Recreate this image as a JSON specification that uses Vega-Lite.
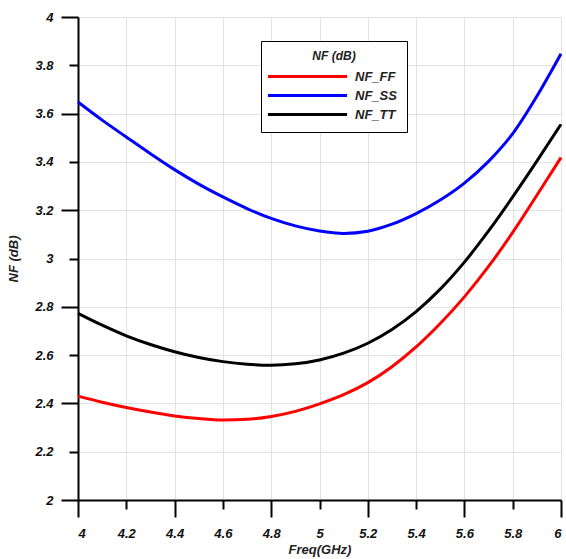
{
  "$schema": "https://vega.github.io/schema/vega-lite/v6.json",
  "width": 483,
  "height": 483,
  "autosize": "none",
  "padding": {"left": 78, "top": 17, "right": 5, "bottom": 59},
  "background": "white",
  "config": {
    "view": {"stroke": null},
    "font": "Liberation Sans"
  },
  "data": {
    "values": [
      {"f": 4.0, "s": "NF_FF", "v": 2.430}, {"f": 4.1, "s": "NF_FF", "v": 2.405}, {"f": 4.2, "s": "NF_FF", "v": 2.383},
      {"f": 4.3, "s": "NF_FF", "v": 2.364}, {"f": 4.4, "s": "NF_FF", "v": 2.348}, {"f": 4.5, "s": "NF_FF", "v": 2.337},
      {"f": 4.6, "s": "NF_FF", "v": 2.331}, {"f": 4.7, "s": "NF_FF", "v": 2.334}, {"f": 4.8, "s": "NF_FF", "v": 2.346},
      {"f": 4.9, "s": "NF_FF", "v": 2.367}, {"f": 5.0, "s": "NF_FF", "v": 2.398}, {"f": 5.1, "s": "NF_FF", "v": 2.436},
      {"f": 5.2, "s": "NF_FF", "v": 2.486}, {"f": 5.3, "s": "NF_FF", "v": 2.552}, {"f": 5.4, "s": "NF_FF", "v": 2.634},
      {"f": 5.5, "s": "NF_FF", "v": 2.731}, {"f": 5.6, "s": "NF_FF", "v": 2.841}, {"f": 5.7, "s": "NF_FF", "v": 2.967},
      {"f": 5.8, "s": "NF_FF", "v": 3.108}, {"f": 5.9, "s": "NF_FF", "v": 3.262}, {"f": 6.0, "s": "NF_FF", "v": 3.418},
      {"f": 4.0, "s": "NF_SS", "v": 3.648}, {"f": 4.1, "s": "NF_SS", "v": 3.573}, {"f": 4.2, "s": "NF_SS", "v": 3.503},
      {"f": 4.3, "s": "NF_SS", "v": 3.434}, {"f": 4.4, "s": "NF_SS", "v": 3.368}, {"f": 4.5, "s": "NF_SS", "v": 3.308},
      {"f": 4.6, "s": "NF_SS", "v": 3.255}, {"f": 4.7, "s": "NF_SS", "v": 3.207}, {"f": 4.8, "s": "NF_SS", "v": 3.166},
      {"f": 4.9, "s": "NF_SS", "v": 3.135}, {"f": 5.0, "s": "NF_SS", "v": 3.114}, {"f": 5.1, "s": "NF_SS", "v": 3.104},
      {"f": 5.2, "s": "NF_SS", "v": 3.113}, {"f": 5.3, "s": "NF_SS", "v": 3.142}, {"f": 5.4, "s": "NF_SS", "v": 3.186},
      {"f": 5.5, "s": "NF_SS", "v": 3.242}, {"f": 5.6, "s": "NF_SS", "v": 3.312}, {"f": 5.7, "s": "NF_SS", "v": 3.402},
      {"f": 5.8, "s": "NF_SS", "v": 3.517}, {"f": 5.9, "s": "NF_SS", "v": 3.672}, {"f": 6.0, "s": "NF_SS", "v": 3.848},
      {"f": 4.0, "s": "NF_TT", "v": 2.773}, {"f": 4.1, "s": "NF_TT", "v": 2.724}, {"f": 4.2, "s": "NF_TT", "v": 2.680},
      {"f": 4.3, "s": "NF_TT", "v": 2.644}, {"f": 4.4, "s": "NF_TT", "v": 2.614}, {"f": 4.5, "s": "NF_TT", "v": 2.590},
      {"f": 4.6, "s": "NF_TT", "v": 2.573}, {"f": 4.7, "s": "NF_TT", "v": 2.562}, {"f": 4.8, "s": "NF_TT", "v": 2.558},
      {"f": 4.9, "s": "NF_TT", "v": 2.564}, {"f": 5.0, "s": "NF_TT", "v": 2.580}, {"f": 5.1, "s": "NF_TT", "v": 2.608},
      {"f": 5.2, "s": "NF_TT", "v": 2.649}, {"f": 5.3, "s": "NF_TT", "v": 2.706}, {"f": 5.4, "s": "NF_TT", "v": 2.780},
      {"f": 5.5, "s": "NF_TT", "v": 2.873}, {"f": 5.6, "s": "NF_TT", "v": 2.985}, {"f": 5.7, "s": "NF_TT", "v": 3.114},
      {"f": 5.8, "s": "NF_TT", "v": 3.255}, {"f": 5.9, "s": "NF_TT", "v": 3.403}, {"f": 6.0, "s": "NF_TT", "v": 3.556}
    ]
  },
  "mark": {"type": "line", "interpolate": "monotone", "strokeWidth": 3},
  "encoding": {
    "x": {
      "field": "f", "type": "quantitative",
      "scale": {"domain": [4, 6], "nice": false, "zero": false},
      "axis": {
        "title": "Freq(GHz)",
        "values": [4, 4.2, 4.4, 4.6, 4.8, 5, 5.2, 5.4, 5.6, 5.8, 6],
        "format": "~f",
        "domainColor": "black", "domainWidth": 2,
        "tickColor": "black", "tickWidth": 2,
        "tickSize": {"condition": {"test": "round(datum.value*5) % 2 == 0", "value": 17}, "value": 9},
        "labelPadding": {"condition": {"test": "round(datum.value*5) % 2 == 0", "value": 10}, "value": 18},
        "gridColor": "#e2e2e2", "gridWidth": 1,
        "labelFont": "Liberation Sans", "labelFontSize": 13, "labelFontWeight": "bold", "labelFontStyle": "italic", "labelColor": "#111",
        "titleFont": "Liberation Sans", "titleFontSize": 13, "titleFontWeight": "bold", "titleFontStyle": "italic", "titleColor": "#222",
        "titlePadding": 3
      }
    },
    "y": {
      "field": "v", "type": "quantitative",
      "scale": {"domain": [2, 4], "nice": false, "zero": false},
      "axis": {
        "title": "NF (dB)",
        "values": [2, 2.2, 2.4, 2.6, 2.8, 3, 3.2, 3.4, 3.6, 3.8, 4],
        "format": "~f",
        "domainColor": "black", "domainWidth": 2,
        "tickColor": "black", "tickWidth": 2,
        "tickSize": {"condition": {"test": "round(datum.value*5) % 2 == 0", "value": 17}, "value": 9},
        "labelPadding": {"condition": {"test": "round(datum.value*5) % 2 == 0", "value": 8}, "value": 16},
        "gridColor": "#e2e2e2", "gridWidth": 1,
        "labelFont": "Liberation Sans", "labelFontSize": 13, "labelFontWeight": "bold", "labelFontStyle": "italic", "labelColor": "#111",
        "titleFont": "Liberation Sans", "titleFontSize": 13, "titleFontWeight": "bold", "titleFontStyle": "italic", "titleColor": "#222",
        "titlePadding": 14
      }
    },
    "color": {
      "field": "s", "type": "nominal",
      "scale": {"domain": ["NF_FF", "NF_SS", "NF_TT"], "range": ["#ff0000", "#0000ff", "#000000"]},
      "legend": {
        "title": "NF (dB)",
        "orient": "none",
        "legendX": 183,
        "legendY": 24,
        "strokeColor": "black",
        "fillColor": "white",
        "padding": 10,
        "titleAnchor": "middle",
        "titleFont": "Liberation Sans", "titleFontSize": 12, "titleFontWeight": "bold", "titleFontStyle": "italic", "titleColor": "#222",
        "titlePadding": 5,
        "labelFont": "Liberation Sans", "labelFontSize": 13, "labelFontWeight": "bold", "labelFontStyle": "italic", "labelColor": "#222",
        "symbolType": "M-6,0H6",
        "symbolSize": 174,
        "symbolStrokeWidth": 3,
        "symbolOffset": 28,
        "rowPadding": 3,
        "labelOffset": 39
      }
    }
  }
}
